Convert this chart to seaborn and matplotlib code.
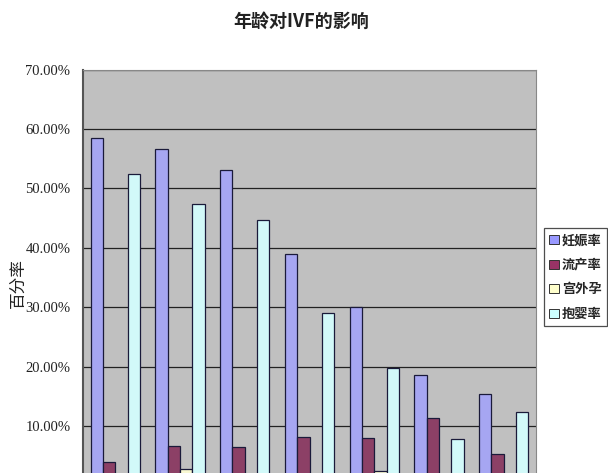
import numpy as np
import pandas as pd
import matplotlib
matplotlib.use('Agg')
import matplotlib.pyplot as plt
import seaborn as sns

# =====================
# DATA
# =====================
age_groups = ['≤30', '31-35', '36-37', '38-39', '40-41', '42-43', '≥44']
pregnancy  = [58.5, 56.7, 53.1, 39.0, 30.1, 18.6, 15.4]   # 妊娠率
miscarriage = [3.9, 6.6, 6.4, 8.1, 7.9, 11.4, 5.3]        # 流产率
ectopic    = [2.0, 2.7, 2.0, 1.5, 2.5, 1.0, 0.5]          # 宫外孕
take_home  = [52.5, 47.3, 44.6, 29.1, 19.7, 7.8, 12.4]    # 抱婴率
series_names = ['妊娠率', '流产率', '宫外孕', '抱婴率']
colors = ['#9999FF', '#993366', '#FFFFCC', '#CCFFFF']
tick_vals = [10, 20, 30, 40, 50, 60, 70]

rows = []
for name, vals in zip(series_names, [pregnancy, miscarriage, ectopic, take_home]):
    for age, v in zip(age_groups, vals):
        rows.append({'age': age, 'metric': name, 'value': v / 100})
df = pd.DataFrame(rows)

# =====================
# PLOT
# =====================
sns.set_style('white')
plt.rcParams['font.family'] = ['Noto Sans CJK SC', 'DejaVu Sans']

W, H = 608, 473
fig = plt.figure(figsize=(W / 100, H / 100), dpi=100)
fig.patch.set_facecolor('white')

# axes bottom (0%) sits below the picture edge, as in the cropped reference
left, right, top, zero = 83, 536, 69.6, 485.4
ax = fig.add_axes([left / W, 1 - zero / H, (right - left) / W, (zero - top) / H])
ax.set_facecolor('#C0C0C0')

sns.barplot(data=df, x='age', y='value', hue='metric', palette=colors,
            width=0.76, edgecolor='#1a1a3a', linewidth=0.9, ax=ax,
            legend=False, zorder=3)

ax.set_ylim(0, 0.70)
ax.set_yticks([t / 100 for t in tick_vals])
ax.set_yticklabels([f'{t:.2f}%' for t in tick_vals],
                   fontsize=10.5, color='#222222', family=['Liberation Serif', 'DejaVu Sans'])
ax.tick_params(axis='y', length=0, pad=9, left=True)
ax.grid(axis='y', color='#222222', linewidth=0.9, zorder=1)
ax.set_axisbelow(True)
ax.set_xlabel('')
ax.set_xticklabels([])
ax.tick_params(axis='x', length=0)

for side in ['top', 'right']:
    ax.spines[side].set_color('#888888')
    ax.spines[side].set_linewidth(0.8)
ax.spines['left'].set_color('#555555')
ax.spines['left'].set_linewidth(1.5)

ax.set_ylabel('百分率', fontsize=12, color='#222222')
ax.yaxis.set_label_coords((27 - left) / (right - left), (zero - 283) / (zero - top))

fig.text(301 / W, 1 - 21 / H, '年龄对IVF的影响', ha='center', va='center',
         fontsize=13, fontweight='bold', color='#222222')

handles = [plt.Rectangle((0, 0), 1, 1, facecolor=c, edgecolor='#333333', linewidth=0.7)
           for c in colors]
leg = fig.legend(handles, series_names, loc='upper left',
                 bbox_to_anchor=(544 / W, 1 - 228 / H), frameon=True,
                 fontsize=9.5, handlelength=0.7, handleheight=0.7,
                 handletextpad=0.25, labelspacing=0.8, borderpad=0.4,
                 borderaxespad=0, fancybox=False)
leg.get_frame().set_edgecolor('#222222')
leg.get_frame().set_linewidth(0.9)
for t in leg.get_texts():
    t.set_fontweight('bold')

fig.savefig('out.png', dpi=100)
plt.close(fig)
